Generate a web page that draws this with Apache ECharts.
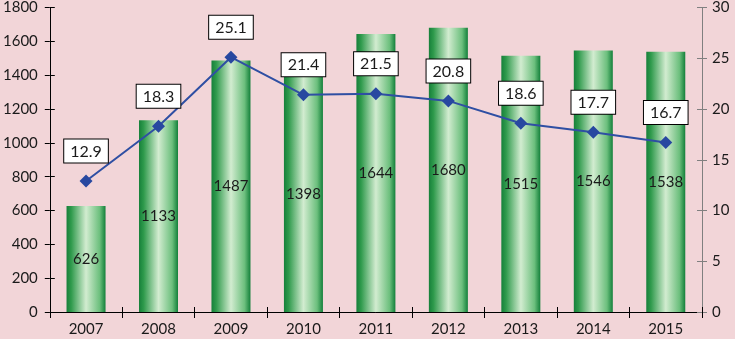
<!DOCTYPE html>
<html>
<head>
<meta charset="utf-8">
<script src="https://cdn.jsdelivr.net/npm/echarts@6/dist/echarts.min.js"></script>
<style>
  html, body {margin: 0; padding: 0; background: #f2d5d8;}
  #chart {width: 735px; height: 339px;}
</style>
</head>
<body>
<div id="chart"></div>
<script>
// data
const years = ['2007', '2008', '2009', '2010', '2011', '2012', '2013', '2014', '2015'];
const counts = [626, 1133, 1487, 1398, 1644, 1680, 1515, 1546, 1538];
const shares = [12.9, 18.3, 25.1, 21.4, 21.5, 20.8, 18.6, 17.7, 16.7];

const font = 'Lato, "Open Sans", sans-serif';
const myChart = echarts.init(document.getElementById('chart'));

const barColor = new echarts.graphic.LinearGradient(0, 0, 1, 0, [
  {offset: 0, color: '#16803a'},
  {offset: 0.12, color: '#2f9a4c'},
  {offset: 0.5, color: '#d2ecd0'},
  {offset: 0.85, color: '#6cbf7d'},
  {offset: 1, color: '#13803a'}
]);

// ticks in the picture cross the axis line, so a second set of inside ticks is drawn
const innerTicks = {show: true, inside: true, length: 5, lineStyle: {color: '#000'}};

myChart.setOption({
  backgroundColor: '#f2d5d8',
  animation: false,
  grid: {left: 47, right: 33, top: 5, bottom: 27},
  xAxis: [{
    type: 'category',
    data: years,
    axisLine: {lineStyle: {color: '#000', width: 1}},
    axisTick: {show: true, length: 6, lineStyle: {color: '#000'}},
    axisLabel: {color: '#1a1a1a', fontSize: 15, fontFamily: font, margin: 10}
  }, {
    type: 'category',
    data: years,
    position: 'bottom',
    axisLine: {show: false},
    axisTick: innerTicks,
    axisLabel: {show: false}
  }],
  yAxis: [{
    type: 'value',
    min: 0, max: 1800, interval: 200,
    axisLine: {show: true, lineStyle: {color: '#000'}},
    axisTick: {show: true, length: 5, lineStyle: {color: '#000'}},
    axisLabel: {color: '#1a1a1a', fontSize: 15, fontFamily: font, margin: 12, formatter: v => String(v)},
    splitLine: {show: false}
  }, {
    type: 'value',
    min: 0, max: 30, interval: 5,
    position: 'right',
    axisLine: {show: true, lineStyle: {color: '#808080'}},
    axisTick: {show: true, length: 5, lineStyle: {color: '#808080'}},
    axisLabel: {color: '#1a1a1a', fontSize: 15, fontFamily: font, margin: 10},
    splitLine: {show: false}
  }, {
    type: 'value',
    min: 0, max: 1800, interval: 200,
    position: 'left',
    axisLine: {show: false},
    axisTick: innerTicks,
    axisLabel: {show: false},
    splitLine: {show: false}
  }, {
    type: 'value',
    min: 0, max: 30, interval: 5,
    position: 'right',
    axisLine: {show: false},
    axisTick: {show: true, inside: true, length: 5, lineStyle: {color: '#808080'}},
    axisLabel: {show: false},
    splitLine: {show: false}
  }],
  series: [{
    type: 'bar',
    data: counts,
    barWidth: 39,
    itemStyle: {color: barColor},
    label: {
      show: true,
      position: 'inside',
      color: '#1a1a1a',
      fontSize: 15,
      fontFamily: font
    }
  }, {
    type: 'line',
    yAxisIndex: 1,
    data: shares,
    symbol: 'diamond',
    symbolSize: 13,
    lineStyle: {color: '#2f4fa3', width: 2},
    itemStyle: {color: '#2848a0'},
    label: {
      show: true,
      position: 'top',
      distance: 12,
      color: '#1a1a1a',
      fontSize: 16,
      fontFamily: font,
      backgroundColor: '#fff',
      borderColor: '#000',
      borderWidth: 1,
      padding: [4, 6, 3, 6],
      formatter: p => p.value.toFixed(1)
    }
  }]
});
</script>
</body>
</html>
